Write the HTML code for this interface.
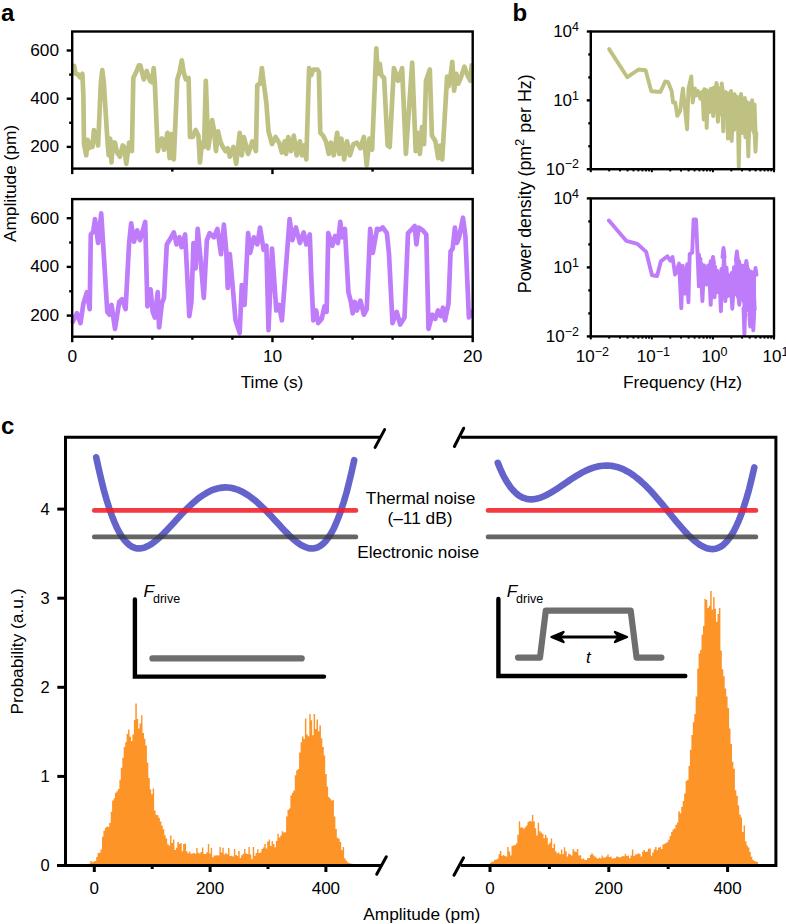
<!DOCTYPE html>
<html><head><meta charset="utf-8"><style>
html,body{margin:0;padding:0;background:#fff;}
svg{display:block;}
text{font-family:"Liberation Sans",sans-serif;fill:#000;}
</style></head><body>
<svg width="786" height="924" viewBox="0 0 786 924">
<rect width="786" height="924" fill="#fff"/>
<text x="1.00" y="21.40" font-size="24" text-anchor="start" font-weight="bold" font-style="normal" >a</text>
<text x="512.50" y="21.40" font-size="24" text-anchor="start" font-weight="bold" font-style="normal" >b</text>
<text x="1.00" y="434.40" font-size="24" text-anchor="start" font-weight="bold" font-style="normal" >c</text>
<polyline points="74.2,66.0 75.6,73.8 78.4,74.5 79.8,77.3 82.4,73.8 83.4,96.3 84.0,144.0 86.2,155.3 87.6,139.9 89.0,148.3 91.1,142.7 92.5,146.9 93.9,130.0 95.3,141.3 96.7,137.0 98.1,145.5 100.9,82.2 102.3,70.2 103.8,82.2 105.2,104.7 107.3,138.5 108.7,155.3 110.1,138.5 111.5,162.4 112.9,142.7 115.0,142.7 117.1,152.5 119.9,156.7 122.7,145.5 124.1,146.9 126.3,163.8 129.1,142.7 131.9,151.1 133.3,78.0 136.1,72.3 138.9,65.3 140.3,65.3 143.8,79.4 146.7,70.9 150.0,80.8 152.0,82.2 153.7,68.1 154.8,82.2 157.7,151.1 159.8,142.7 161.9,138.5 164.0,149.7 167.5,132.8 169.6,158.1 171.7,134.2 173.8,159.5 177.3,79.4 179.5,72.3 181.8,60.4 183.7,72.3 185.8,79.4 188.6,78.0 190.0,137.0 192.8,137.0 195.6,130.0 198.4,135.6 199.9,162.4 202.0,142.7 204.1,146.9 205.8,80.8 206.9,110.3 208.3,148.3 212.2,120.2 213.9,130.0 216.0,151.1 218.1,131.4 220.2,141.3 222.8,146.9 225.6,151.1 227.7,148.3 229.8,156.7 233.4,146.9 236.2,163.8 239.7,132.8 241.8,155.3 243.9,137.0 248.1,153.9 252.3,141.3 255.9,151.1 257.3,85.0 260.1,83.6 261.9,68.1 263.6,82.2 266.4,103.3 268.5,131.4 272.0,144.1 275.6,137.0 279.1,142.7 281.9,152.5 284.7,141.3 286.1,153.9 288.2,137.0 291.0,151.1 293.8,135.6 296.7,155.3 299.9,141.3 302.0,155.3 304.1,145.5 306.3,159.5 309.1,68.1 311.2,75.2 313.3,69.5 317.5,69.5 318.9,72.3 320.3,132.8 323.1,135.6 325.9,141.3 328.8,153.9 330.9,142.7 333.7,155.3 337.2,132.8 339.3,153.9 341.4,138.5 344.2,159.5 347.0,141.3 349.9,155.3 353.4,144.1 356.9,142.7 360.4,148.3 363.9,137.0 366.7,165.2 369.5,138.5 372.1,149.7 376.3,48.4 377.7,73.8 379.8,63.9 381.3,75.2 384.1,78.0 387.6,145.5 389.7,146.9 393.9,68.1 396.0,73.8 398.1,80.8 402.1,68.1 405.9,153.9 412.2,62.5 415.7,151.1 417.8,132.8 419.9,153.9 422.0,127.2 424.1,144.1 426.0,80.8 429.8,69.5 431.9,135.6 435.4,141.3 438.2,158.1 440.3,145.5 442.2,159.5 447.1,76.6 448.5,86.4 450.6,75.2 452.3,61.8 454.1,90.6 456.3,73.8 458.4,83.6 461.2,76.6 464.4,66.7 467.5,75.2 470.3,80.8 471.7,65.3" fill="none" stroke="#BFC183" stroke-width="4.7" stroke-linejoin="round" stroke-linecap="round"/>
<rect x="72.2" y="31.5" width="400.5" height="137.1" fill="none" stroke="#000" stroke-width="2.4"/>
<line x1="66.70" y1="50.50" x2="72.20" y2="50.50" stroke="#000" stroke-width="2.4" stroke-linecap="butt" />
<text x="59.00" y="55.80" font-size="17.3" text-anchor="end" font-weight="normal" font-style="normal" >600</text>
<line x1="69.20" y1="74.60" x2="72.20" y2="74.60" stroke="#000" stroke-width="2.4" stroke-linecap="butt" />
<line x1="66.70" y1="98.70" x2="72.20" y2="98.70" stroke="#000" stroke-width="2.4" stroke-linecap="butt" />
<text x="59.00" y="104.00" font-size="17.3" text-anchor="end" font-weight="normal" font-style="normal" >400</text>
<line x1="69.20" y1="122.80" x2="72.20" y2="122.80" stroke="#000" stroke-width="2.4" stroke-linecap="butt" />
<line x1="66.70" y1="146.90" x2="72.20" y2="146.90" stroke="#000" stroke-width="2.4" stroke-linecap="butt" />
<text x="59.00" y="152.20" font-size="17.3" text-anchor="end" font-weight="normal" font-style="normal" >200</text>
<line x1="72.20" y1="168.60" x2="72.20" y2="174.10" stroke="#000" stroke-width="2.4" stroke-linecap="butt" />
<line x1="172.32" y1="168.60" x2="172.32" y2="171.60" stroke="#000" stroke-width="2.4" stroke-linecap="butt" />
<line x1="272.45" y1="168.60" x2="272.45" y2="174.10" stroke="#000" stroke-width="2.4" stroke-linecap="butt" />
<line x1="372.57" y1="168.60" x2="372.57" y2="171.60" stroke="#000" stroke-width="2.4" stroke-linecap="butt" />
<line x1="472.70" y1="168.60" x2="472.70" y2="174.10" stroke="#000" stroke-width="2.4" stroke-linecap="butt" />
<polyline points="72.8,321.7 77.0,313.3 80.5,323.1 83.4,303.5 86.9,292.2 89.7,309.1 90.8,234.5 93.2,231.7 95.0,219.1 98.1,243.0 101.2,213.4 103.1,243.0 105.9,289.4 107.3,311.9 109.4,314.7 111.5,304.9 115.0,328.8 119.2,302.0 122.0,299.2 125.6,309.1 129.1,243.0 131.2,223.3 134.0,241.6 137.2,230.3 140.0,240.2 145.2,221.9 147.4,306.3 150.6,289.4 152.7,311.9 154.8,317.5 157.7,292.2 159.1,327.4 161.9,303.5 164.0,297.8 166.8,244.4 170.3,238.8 173.8,232.4 176.6,244.4 179.5,237.3 181.6,247.2 185.1,234.5 186.5,261.3 189.3,316.1 191.4,302.0 193.5,243.0 195.6,268.3 197.7,228.9 200.6,259.9 203.8,297.8 206.9,240.2 209.7,233.1 213.9,237.3 217.4,228.9 221.0,254.2 223.9,224.7 226.3,251.4 227.7,288.0 229.8,254.2 232.7,286.6 235.5,320.3 239.7,333.0 241.8,285.2 244.6,304.9 248.1,233.1 250.2,252.8 253.8,237.3 257.3,244.4 260.1,227.5 263.6,250.0 266.4,245.8 268.5,330.2 272.0,248.6 276.3,310.5 279.1,304.9 281.9,320.3 289.6,219.1 292.4,240.2 295.9,227.5 299.9,243.0 303.7,232.4 306.3,244.4 309.8,234.5 311.2,275.3 313.3,320.3 316.1,310.5 318.2,323.1 321.7,318.9 324.5,306.3 326.6,311.9 328.3,233.1 332.3,245.8 335.1,235.9 337.9,243.0 340.3,221.9 342.1,237.3 344.9,228.9 348.4,292.2 350.6,300.6 352.7,313.3 354.8,302.0 356.9,310.5 360.4,300.6 363.9,314.7 366.7,309.1 370.2,228.9 372.8,252.8 377.0,228.9 379.8,229.6 382.7,227.5 386.9,233.1 389.0,254.2 392.5,323.1 396.7,311.9 400.2,324.5 404.5,317.5 408.0,233.1 412.2,228.9 414.7,226.1 416.4,244.4 418.5,227.5 422.7,230.3 426.3,234.5 428.5,328.8 432.3,314.7 435.2,318.9 438.0,310.5 440.8,316.1 442.9,307.7 445.0,320.3 448.5,303.5 450.6,251.4 452.7,248.6 454.9,227.5 457.0,243.0 459.1,237.3 463.0,217.7 465.4,236.0 468.9,317.5 471.7,311.9" fill="none" stroke="#BF7CFA" stroke-width="4.7" stroke-linejoin="round" stroke-linecap="round"/>
<rect x="72.2" y="199.1" width="400.5" height="137.6" fill="none" stroke="#000" stroke-width="2.4"/>
<line x1="66.70" y1="218.20" x2="72.20" y2="218.20" stroke="#000" stroke-width="2.4" stroke-linecap="butt" />
<text x="59.00" y="223.50" font-size="17.3" text-anchor="end" font-weight="normal" font-style="normal" >600</text>
<line x1="69.20" y1="242.55" x2="72.20" y2="242.55" stroke="#000" stroke-width="2.4" stroke-linecap="butt" />
<line x1="66.70" y1="266.90" x2="72.20" y2="266.90" stroke="#000" stroke-width="2.4" stroke-linecap="butt" />
<text x="59.00" y="272.20" font-size="17.3" text-anchor="end" font-weight="normal" font-style="normal" >400</text>
<line x1="69.20" y1="291.25" x2="72.20" y2="291.25" stroke="#000" stroke-width="2.4" stroke-linecap="butt" />
<line x1="66.70" y1="315.60" x2="72.20" y2="315.60" stroke="#000" stroke-width="2.4" stroke-linecap="butt" />
<text x="59.00" y="320.90" font-size="17.3" text-anchor="end" font-weight="normal" font-style="normal" >200</text>
<line x1="72.20" y1="336.70" x2="72.20" y2="342.20" stroke="#000" stroke-width="2.4" stroke-linecap="butt" />
<line x1="112.25" y1="336.70" x2="112.25" y2="339.70" stroke="#000" stroke-width="2.4" stroke-linecap="butt" />
<line x1="152.30" y1="336.70" x2="152.30" y2="339.70" stroke="#000" stroke-width="2.4" stroke-linecap="butt" />
<line x1="192.35" y1="336.70" x2="192.35" y2="339.70" stroke="#000" stroke-width="2.4" stroke-linecap="butt" />
<line x1="232.40" y1="336.70" x2="232.40" y2="339.70" stroke="#000" stroke-width="2.4" stroke-linecap="butt" />
<line x1="272.45" y1="336.70" x2="272.45" y2="342.20" stroke="#000" stroke-width="2.4" stroke-linecap="butt" />
<line x1="312.50" y1="336.70" x2="312.50" y2="339.70" stroke="#000" stroke-width="2.4" stroke-linecap="butt" />
<line x1="352.55" y1="336.70" x2="352.55" y2="339.70" stroke="#000" stroke-width="2.4" stroke-linecap="butt" />
<line x1="392.60" y1="336.70" x2="392.60" y2="339.70" stroke="#000" stroke-width="2.4" stroke-linecap="butt" />
<line x1="432.65" y1="336.70" x2="432.65" y2="339.70" stroke="#000" stroke-width="2.4" stroke-linecap="butt" />
<line x1="472.70" y1="336.70" x2="472.70" y2="342.20" stroke="#000" stroke-width="2.4" stroke-linecap="butt" />
<text x="72.40" y="362.00" font-size="17.3" text-anchor="middle" font-weight="normal" font-style="normal" >0</text>
<text x="272.50" y="362.00" font-size="17.3" text-anchor="middle" font-weight="normal" font-style="normal" >10</text>
<text x="472.70" y="362.00" font-size="17.3" text-anchor="middle" font-weight="normal" font-style="normal" >20</text>
<text x="272.00" y="387.50" font-size="17.3" text-anchor="middle" font-weight="normal" font-style="normal" >Time (s)</text>
<text transform="translate(15.7,183.5) rotate(-90)" x="0" y="0" font-size="17.3" text-anchor="middle">Amplitude (pm)</text>
<polyline points="609.1,49.1 627.3,77.2 638.6,69.5 645.6,70.2 651.3,91.3 660.4,92.0 665.3,81.4 668.1,82.1 671.7,91.3 673.1,102.5 675.2,102.5 677.3,115.9 680.1,111.0 682.9,88.4 687.1,129.2 688.5,88.4 691.3,76.5 692.7,102.5 695.0,88.4" fill="none" stroke="#BFC183" stroke-width="3.9" stroke-linejoin="round" stroke-linecap="round"/>
<polygon points="692.7,93.6 696.0,93.6 699.4,97.0 702.7,95.0 706.1,93.8 709.4,93.8 712.8,90.9 716.1,88.9 719.4,88.8 722.8,91.7 726.1,97.1 729.5,97.1 732.8,98.0 736.1,99.4 739.5,99.9 742.8,100.7 746.2,101.9 749.5,103.1 752.9,105.3 756.2,112.6 756.2,134.0 752.9,130.8 749.5,127.7 746.2,125.7 742.8,123.7 739.5,121.8 736.1,120.5 732.8,119.1 729.5,117.6 726.1,114.9 722.8,112.2 719.4,109.5 716.1,106.9 712.8,104.2 709.4,101.7 706.1,100.0 702.7,98.4 699.4,96.8 696.0,95.9 692.7,95.0" fill="#BFC183"/>
<polyline points="692.7,89.4 694.2,93.7 695.2,91.6 696.3,95.4 697.8,90.9 698.6,94.2 699.7,96.5 700.5,98.8 701.9,91.9 703.5,95.7 704.3,89.1 705.5,96.4 706.6,90.2 707.8,106.6 708.8,91.8 710.0,105.6 710.9,88.8 712.1,106.8 712.9,90.8 714.2,104.9 715.1,90.3 716.6,112.1 717.7,87.6 719.0,105.9 720.2,89.0 721.5,114.2 722.8,92.0 724.3,114.4 725.5,92.0 726.5,113.2 727.7,93.1 728.9,116.1 730.2,94.3 731.4,119.5 732.8,96.2 733.9,120.7 734.7,94.1 736.1,116.6 737.4,97.0 738.3,122.3 739.9,99.6 741.1,120.1 742.1,98.5 743.7,124.4 744.9,98.0 746.1,122.1 746.9,101.9 748.4,124.1 749.7,103.1 751.0,129.3 752.1,100.2 753.6,131.8 754.6,104.5 755.7,136.0" fill="none" stroke="#BFC183" stroke-width="3.9" stroke-linejoin="round" stroke-linecap="round"/>
<polyline points="702.8,98.9 703.7,119.5 704.6,98.9" fill="none" stroke="#BFC183" stroke-width="3.9" stroke-linejoin="round" stroke-linecap="round"/>
<polyline points="705.8,100.4 706.7,127.9 707.6,100.4" fill="none" stroke="#BFC183" stroke-width="3.9" stroke-linejoin="round" stroke-linecap="round"/>
<polyline points="717.0,108.3 717.9,121.9 718.8,108.3" fill="none" stroke="#BFC183" stroke-width="3.9" stroke-linejoin="round" stroke-linecap="round"/>
<polyline points="722.4,112.6 723.3,131.4 724.2,112.6" fill="none" stroke="#BFC183" stroke-width="3.9" stroke-linejoin="round" stroke-linecap="round"/>
<polyline points="727.1,116.4 728.0,138.6 728.9,116.4" fill="none" stroke="#BFC183" stroke-width="3.9" stroke-linejoin="round" stroke-linecap="round"/>
<polyline points="730.8,118.7 731.7,141.0 732.6,118.7" fill="none" stroke="#BFC183" stroke-width="3.9" stroke-linejoin="round" stroke-linecap="round"/>
<polyline points="737.9,121.5 738.8,167.1 739.7,121.5" fill="none" stroke="#BFC183" stroke-width="3.9" stroke-linejoin="round" stroke-linecap="round"/>
<polyline points="744.5,125.2 745.4,137.4 746.3,125.2" fill="none" stroke="#BFC183" stroke-width="3.9" stroke-linejoin="round" stroke-linecap="round"/>
<polyline points="747.4,127.0 748.3,156.4 749.2,127.0" fill="none" stroke="#BFC183" stroke-width="3.9" stroke-linejoin="round" stroke-linecap="round"/>
<polyline points="754.6,133.3 755.5,151.7 756.4,133.3" fill="none" stroke="#BFC183" stroke-width="3.9" stroke-linejoin="round" stroke-linecap="round"/>
<polyline points="708.7,101.8 709.6,112.0 710.5,101.8" fill="none" stroke="#BFC183" stroke-width="3.9" stroke-linejoin="round" stroke-linecap="round"/>
<polyline points="712.3,104.6 713.2,116.0 714.1,104.6" fill="none" stroke="#BFC183" stroke-width="3.9" stroke-linejoin="round" stroke-linecap="round"/>
<polyline points="733.1,119.6 734.0,130.0 734.9,119.6" fill="none" stroke="#BFC183" stroke-width="3.9" stroke-linejoin="round" stroke-linecap="round"/>
<polyline points="741.5,123.4 742.4,133.0 743.3,123.4" fill="none" stroke="#BFC183" stroke-width="3.9" stroke-linejoin="round" stroke-linecap="round"/>
<polyline points="715.5,89.6 716.5,83.0 717.5,89.6" fill="none" stroke="#BFC183" stroke-width="3.9" stroke-linejoin="round" stroke-linecap="round"/>
<polyline points="720.8,90.9 721.8,83.5 722.8,90.9" fill="none" stroke="#BFC183" stroke-width="3.9" stroke-linejoin="round" stroke-linecap="round"/>
<polyline points="712.5,91.3 713.5,88.0 714.5,91.3" fill="none" stroke="#BFC183" stroke-width="3.9" stroke-linejoin="round" stroke-linecap="round"/>
<polyline points="730.0,98.3 731.0,91.0 732.0,98.3" fill="none" stroke="#BFC183" stroke-width="3.9" stroke-linejoin="round" stroke-linecap="round"/>
<polyline points="740.0,101.1 741.0,94.0 742.0,101.1" fill="none" stroke="#BFC183" stroke-width="3.9" stroke-linejoin="round" stroke-linecap="round"/>
<rect x="590.8" y="31.5" width="183.20000000000005" height="137.7" fill="none" stroke="#000" stroke-width="2.4"/>
<line x1="586.80" y1="31.50" x2="590.80" y2="31.50" stroke="#000" stroke-width="2.4" stroke-linecap="butt" />
<line x1="588.30" y1="54.45" x2="590.80" y2="54.45" stroke="#000" stroke-width="2.4" stroke-linecap="butt" />
<line x1="588.30" y1="77.40" x2="590.80" y2="77.40" stroke="#000" stroke-width="2.4" stroke-linecap="butt" />
<line x1="586.80" y1="100.35" x2="590.80" y2="100.35" stroke="#000" stroke-width="2.4" stroke-linecap="butt" />
<line x1="588.30" y1="123.30" x2="590.80" y2="123.30" stroke="#000" stroke-width="2.4" stroke-linecap="butt" />
<line x1="588.30" y1="146.25" x2="590.80" y2="146.25" stroke="#000" stroke-width="2.4" stroke-linecap="butt" />
<line x1="586.80" y1="169.20" x2="590.80" y2="169.20" stroke="#000" stroke-width="2.4" stroke-linecap="butt" />
<text x="579" y="37.40" font-size="17" text-anchor="end">10<tspan font-size="12.5" dy="-6.7">4</tspan></text>
<text x="579" y="106.25" font-size="17" text-anchor="end">10<tspan font-size="12.5" dy="-6.7">1</tspan></text>
<text x="579" y="175.10" font-size="17" text-anchor="end">10<tspan font-size="12.5" dy="-6.7">−2</tspan></text>
<line x1="590.80" y1="169.20" x2="590.80" y2="172.20" stroke="#000" stroke-width="2.0" stroke-linecap="butt" />
<line x1="609.18" y1="169.20" x2="609.18" y2="171.40" stroke="#000" stroke-width="2.0" stroke-linecap="butt" />
<line x1="619.94" y1="169.20" x2="619.94" y2="171.40" stroke="#000" stroke-width="2.0" stroke-linecap="butt" />
<line x1="627.57" y1="169.20" x2="627.57" y2="171.40" stroke="#000" stroke-width="2.0" stroke-linecap="butt" />
<line x1="633.48" y1="169.20" x2="633.48" y2="171.40" stroke="#000" stroke-width="2.0" stroke-linecap="butt" />
<line x1="638.32" y1="169.20" x2="638.32" y2="171.40" stroke="#000" stroke-width="2.0" stroke-linecap="butt" />
<line x1="642.41" y1="169.20" x2="642.41" y2="171.40" stroke="#000" stroke-width="2.0" stroke-linecap="butt" />
<line x1="645.95" y1="169.20" x2="645.95" y2="171.40" stroke="#000" stroke-width="2.0" stroke-linecap="butt" />
<line x1="649.07" y1="169.20" x2="649.07" y2="171.40" stroke="#000" stroke-width="2.0" stroke-linecap="butt" />
<line x1="651.87" y1="169.20" x2="651.87" y2="172.20" stroke="#000" stroke-width="2.0" stroke-linecap="butt" />
<line x1="670.25" y1="169.20" x2="670.25" y2="171.40" stroke="#000" stroke-width="2.0" stroke-linecap="butt" />
<line x1="681.00" y1="169.20" x2="681.00" y2="171.40" stroke="#000" stroke-width="2.0" stroke-linecap="butt" />
<line x1="688.63" y1="169.20" x2="688.63" y2="171.40" stroke="#000" stroke-width="2.0" stroke-linecap="butt" />
<line x1="694.55" y1="169.20" x2="694.55" y2="171.40" stroke="#000" stroke-width="2.0" stroke-linecap="butt" />
<line x1="699.39" y1="169.20" x2="699.39" y2="171.40" stroke="#000" stroke-width="2.0" stroke-linecap="butt" />
<line x1="703.47" y1="169.20" x2="703.47" y2="171.40" stroke="#000" stroke-width="2.0" stroke-linecap="butt" />
<line x1="707.02" y1="169.20" x2="707.02" y2="171.40" stroke="#000" stroke-width="2.0" stroke-linecap="butt" />
<line x1="710.14" y1="169.20" x2="710.14" y2="171.40" stroke="#000" stroke-width="2.0" stroke-linecap="butt" />
<line x1="712.93" y1="169.20" x2="712.93" y2="172.20" stroke="#000" stroke-width="2.0" stroke-linecap="butt" />
<line x1="731.32" y1="169.20" x2="731.32" y2="171.40" stroke="#000" stroke-width="2.0" stroke-linecap="butt" />
<line x1="742.07" y1="169.20" x2="742.07" y2="171.40" stroke="#000" stroke-width="2.0" stroke-linecap="butt" />
<line x1="749.70" y1="169.20" x2="749.70" y2="171.40" stroke="#000" stroke-width="2.0" stroke-linecap="butt" />
<line x1="755.62" y1="169.20" x2="755.62" y2="171.40" stroke="#000" stroke-width="2.0" stroke-linecap="butt" />
<line x1="760.45" y1="169.20" x2="760.45" y2="171.40" stroke="#000" stroke-width="2.0" stroke-linecap="butt" />
<line x1="764.54" y1="169.20" x2="764.54" y2="171.40" stroke="#000" stroke-width="2.0" stroke-linecap="butt" />
<line x1="768.08" y1="169.20" x2="768.08" y2="171.40" stroke="#000" stroke-width="2.0" stroke-linecap="butt" />
<line x1="771.21" y1="169.20" x2="771.21" y2="171.40" stroke="#000" stroke-width="2.0" stroke-linecap="butt" />
<line x1="774.00" y1="169.20" x2="774.00" y2="172.20" stroke="#000" stroke-width="2.0" stroke-linecap="butt" />
<polyline points="608.9,220.5 626.4,240.9 637.4,243.9 646.2,251.9 652.0,275.3 657.1,276.0 660.8,261.4 667.4,256.3 670.3,260.7 672.5,257.0 675.1,274.6 679.1,263.6 681.3,308.2 682.7,265.8 684.9,293.6 687.1,264.3 688.4,302.3 689.7,254.0 692.2,252.6 693.6,219.5 696.0,219.5 697.4,250.0 698.9,286.4 700.5,259.0" fill="none" stroke="#BF7CFA" stroke-width="3.9" stroke-linejoin="round" stroke-linecap="round"/>
<polygon points="699.0,259.0 702.0,266.5 705.0,270.2 708.0,269.3 711.0,265.4 714.0,264.9 717.0,274.3 720.0,274.3 723.0,258.9 726.0,264.7 729.0,274.7 732.0,277.8 735.0,267.0 738.0,259.2 741.0,269.7 744.0,268.3 747.0,268.2 750.0,275.0 753.0,274.6 756.0,273.6 756.0,312.0 753.0,313.0 750.0,314.0 747.0,311.6 744.0,307.2 741.0,298.8 738.0,295.6 735.0,295.0 732.0,294.4 729.0,293.6 726.0,292.4 723.0,291.2 720.0,290.0 717.0,288.5 714.0,287.0 711.0,285.4 708.0,283.7 705.0,282.0 702.0,281.0 699.0,280.0" fill="#BF7CFA"/>
<polyline points="699.0,254.8 700.5,278.9 701.5,263.7 702.6,280.7 704.1,265.4 704.9,279.6 706.0,269.5 706.8,284.6 708.2,265.5 709.8,281.7 710.6,261.1 711.8,282.5 712.9,259.0 714.1,292.7 715.1,266.7 716.3,291.8 717.2,270.6 718.4,292.3 719.2,274.3 720.5,289.8 721.4,268.9 722.9,296.0 724.0,252.7 725.3,288.8 726.5,267.7 727.8,296.1 729.1,275.1 730.6,295.1 731.8,272.8 732.8,292.6 734.0,267.3 735.2,294.0 736.5,257.9 737.7,296.5 739.1,261.2 740.2,297.7 741.0,265.1 742.4,298.9 743.7,265.9 744.6,309.9 746.2,266.3 747.4,309.3 748.4,269.5 750.0,314.2 751.2,271.8 752.4,309.6 753.2,274.2 754.7,309.6" fill="none" stroke="#BF7CFA" stroke-width="3.9" stroke-linejoin="round" stroke-linecap="round"/>
<polyline points="701.5,281.1 702.4,301.1 703.3,281.1" fill="none" stroke="#BF7CFA" stroke-width="3.9" stroke-linejoin="round" stroke-linecap="round"/>
<polyline points="709.8,285.3 710.7,304.9 711.6,285.3" fill="none" stroke="#BF7CFA" stroke-width="3.9" stroke-linejoin="round" stroke-linecap="round"/>
<polyline points="713.6,287.2 714.5,297.3 715.4,287.2" fill="none" stroke="#BF7CFA" stroke-width="3.9" stroke-linejoin="round" stroke-linecap="round"/>
<polyline points="720.0,290.4 720.9,311.2 721.8,290.4" fill="none" stroke="#BF7CFA" stroke-width="3.9" stroke-linejoin="round" stroke-linecap="round"/>
<polyline points="724.4,292.1 725.3,301.1 726.2,292.1" fill="none" stroke="#BF7CFA" stroke-width="3.9" stroke-linejoin="round" stroke-linecap="round"/>
<polyline points="731.4,294.5 732.3,308.7 733.2,294.5" fill="none" stroke="#BF7CFA" stroke-width="3.9" stroke-linejoin="round" stroke-linecap="round"/>
<polyline points="738.4,295.9 739.3,304.9 740.2,295.9" fill="none" stroke="#BF7CFA" stroke-width="3.9" stroke-linejoin="round" stroke-linecap="round"/>
<polyline points="743.5,308.3 744.4,334.1 745.3,308.3" fill="none" stroke="#BF7CFA" stroke-width="3.9" stroke-linejoin="round" stroke-linecap="round"/>
<polyline points="749.3,313.9 750.2,326.5 751.1,313.9" fill="none" stroke="#BF7CFA" stroke-width="3.9" stroke-linejoin="round" stroke-linecap="round"/>
<polyline points="752.4,312.9 753.3,330.3 754.2,312.9" fill="none" stroke="#BF7CFA" stroke-width="3.9" stroke-linejoin="round" stroke-linecap="round"/>
<polyline points="722.5,257.0 723.5,248.0 724.5,257.0" fill="none" stroke="#BF7CFA" stroke-width="3.9" stroke-linejoin="round" stroke-linecap="round"/>
<polyline points="735.9,260.2 736.9,251.5 737.9,260.2" fill="none" stroke="#BF7CFA" stroke-width="3.9" stroke-linejoin="round" stroke-linecap="round"/>
<polyline points="745.3,267.6 746.3,261.0 747.3,267.6" fill="none" stroke="#BF7CFA" stroke-width="3.9" stroke-linejoin="round" stroke-linecap="round"/>
<polyline points="712.0,263.6 713.0,257.0 714.0,263.6" fill="none" stroke="#BF7CFA" stroke-width="3.9" stroke-linejoin="round" stroke-linecap="round"/>
<polyline points="754.5,274.8 755.5,268.0 756.5,274.8" fill="none" stroke="#BF7CFA" stroke-width="3.9" stroke-linejoin="round" stroke-linecap="round"/>
<rect x="590.8" y="198.4" width="183.20000000000005" height="137.99999999999997" fill="none" stroke="#000" stroke-width="2.4"/>
<line x1="586.80" y1="198.40" x2="590.80" y2="198.40" stroke="#000" stroke-width="2.4" stroke-linecap="butt" />
<line x1="588.30" y1="221.40" x2="590.80" y2="221.40" stroke="#000" stroke-width="2.4" stroke-linecap="butt" />
<line x1="588.30" y1="244.40" x2="590.80" y2="244.40" stroke="#000" stroke-width="2.4" stroke-linecap="butt" />
<line x1="586.80" y1="267.40" x2="590.80" y2="267.40" stroke="#000" stroke-width="2.4" stroke-linecap="butt" />
<line x1="588.30" y1="290.40" x2="590.80" y2="290.40" stroke="#000" stroke-width="2.4" stroke-linecap="butt" />
<line x1="588.30" y1="313.40" x2="590.80" y2="313.40" stroke="#000" stroke-width="2.4" stroke-linecap="butt" />
<line x1="586.80" y1="336.40" x2="590.80" y2="336.40" stroke="#000" stroke-width="2.4" stroke-linecap="butt" />
<text x="579" y="204.30" font-size="17" text-anchor="end">10<tspan font-size="12.5" dy="-6.7">4</tspan></text>
<text x="579" y="273.30" font-size="17" text-anchor="end">10<tspan font-size="12.5" dy="-6.7">1</tspan></text>
<text x="579" y="342.30" font-size="17" text-anchor="end">10<tspan font-size="12.5" dy="-6.7">−2</tspan></text>
<line x1="590.80" y1="336.40" x2="590.80" y2="339.40" stroke="#000" stroke-width="2.0" stroke-linecap="butt" />
<line x1="609.18" y1="336.40" x2="609.18" y2="338.60" stroke="#000" stroke-width="2.0" stroke-linecap="butt" />
<line x1="619.94" y1="336.40" x2="619.94" y2="338.60" stroke="#000" stroke-width="2.0" stroke-linecap="butt" />
<line x1="627.57" y1="336.40" x2="627.57" y2="338.60" stroke="#000" stroke-width="2.0" stroke-linecap="butt" />
<line x1="633.48" y1="336.40" x2="633.48" y2="338.60" stroke="#000" stroke-width="2.0" stroke-linecap="butt" />
<line x1="638.32" y1="336.40" x2="638.32" y2="338.60" stroke="#000" stroke-width="2.0" stroke-linecap="butt" />
<line x1="642.41" y1="336.40" x2="642.41" y2="338.60" stroke="#000" stroke-width="2.0" stroke-linecap="butt" />
<line x1="645.95" y1="336.40" x2="645.95" y2="338.60" stroke="#000" stroke-width="2.0" stroke-linecap="butt" />
<line x1="649.07" y1="336.40" x2="649.07" y2="338.60" stroke="#000" stroke-width="2.0" stroke-linecap="butt" />
<line x1="651.87" y1="336.40" x2="651.87" y2="339.40" stroke="#000" stroke-width="2.0" stroke-linecap="butt" />
<line x1="670.25" y1="336.40" x2="670.25" y2="338.60" stroke="#000" stroke-width="2.0" stroke-linecap="butt" />
<line x1="681.00" y1="336.40" x2="681.00" y2="338.60" stroke="#000" stroke-width="2.0" stroke-linecap="butt" />
<line x1="688.63" y1="336.40" x2="688.63" y2="338.60" stroke="#000" stroke-width="2.0" stroke-linecap="butt" />
<line x1="694.55" y1="336.40" x2="694.55" y2="338.60" stroke="#000" stroke-width="2.0" stroke-linecap="butt" />
<line x1="699.39" y1="336.40" x2="699.39" y2="338.60" stroke="#000" stroke-width="2.0" stroke-linecap="butt" />
<line x1="703.47" y1="336.40" x2="703.47" y2="338.60" stroke="#000" stroke-width="2.0" stroke-linecap="butt" />
<line x1="707.02" y1="336.40" x2="707.02" y2="338.60" stroke="#000" stroke-width="2.0" stroke-linecap="butt" />
<line x1="710.14" y1="336.40" x2="710.14" y2="338.60" stroke="#000" stroke-width="2.0" stroke-linecap="butt" />
<line x1="712.93" y1="336.40" x2="712.93" y2="339.40" stroke="#000" stroke-width="2.0" stroke-linecap="butt" />
<line x1="731.32" y1="336.40" x2="731.32" y2="338.60" stroke="#000" stroke-width="2.0" stroke-linecap="butt" />
<line x1="742.07" y1="336.40" x2="742.07" y2="338.60" stroke="#000" stroke-width="2.0" stroke-linecap="butt" />
<line x1="749.70" y1="336.40" x2="749.70" y2="338.60" stroke="#000" stroke-width="2.0" stroke-linecap="butt" />
<line x1="755.62" y1="336.40" x2="755.62" y2="338.60" stroke="#000" stroke-width="2.0" stroke-linecap="butt" />
<line x1="760.45" y1="336.40" x2="760.45" y2="338.60" stroke="#000" stroke-width="2.0" stroke-linecap="butt" />
<line x1="764.54" y1="336.40" x2="764.54" y2="338.60" stroke="#000" stroke-width="2.0" stroke-linecap="butt" />
<line x1="768.08" y1="336.40" x2="768.08" y2="338.60" stroke="#000" stroke-width="2.0" stroke-linecap="butt" />
<line x1="771.21" y1="336.40" x2="771.21" y2="338.60" stroke="#000" stroke-width="2.0" stroke-linecap="butt" />
<line x1="774.00" y1="336.40" x2="774.00" y2="339.40" stroke="#000" stroke-width="2.0" stroke-linecap="butt" />
<text x="592.30" y="362" font-size="17" text-anchor="middle">10<tspan font-size="12.5" dy="-6.5">−2</tspan></text>
<text x="653.37" y="362" font-size="17" text-anchor="middle">10<tspan font-size="12.5" dy="-6.5">−1</tspan></text>
<text x="714.43" y="362" font-size="17" text-anchor="middle">10<tspan font-size="12.5" dy="-6.5">0</tspan></text>
<text x="775.50" y="362" font-size="17" text-anchor="middle">10<tspan font-size="12.5" dy="-6.5">1</tspan></text>
<text x="682.50" y="387.50" font-size="17.3" text-anchor="middle" font-weight="normal" font-style="normal" >Frequency (Hz)</text>
<text transform="translate(530.7,183.8) rotate(-90)" x="0" y="0" font-size="17.8" text-anchor="middle">Power density (pm<tspan font-size="13" dy="-6.5">2</tspan><tspan dy="6.5" dx="1"> per Hz)</tspan></text>
<path d="M86.0,865.5V864.6H87.5V863.9H88.9V863.5H90.4V860.9H91.8V862.3H93.3V861.5H94.7V860.9H96.2V857.1H97.6V852.9H99.1V852.8H100.5V849.6H102.0V836.7H103.4V830.7H104.9V827.7H106.3V826.6H107.8V827.0H109.2V822.9H110.7V811.8H112.1V800.4H113.6V798.3H115.0V792.7H116.5V791.3H117.9V789.1H119.4V779.8H120.8V767.7H122.3V757.7H123.7V746.9H125.2V742.3H126.6V734.1H128.1V729.6H129.5V736.8H131.0V740.9H132.4V734.4H133.9V720.0H135.3V703.6H136.8V719.0H138.2V728.6H139.6V723.4H141.1V715.3H142.5V733.1H144.0V738.7H145.4V745.5H146.9V762.5H148.3V778.0H149.8V789.4H151.2V794.3H152.7V788.4H154.1V810.4H155.6V814.8H157.0V815.2H158.5V818.1H159.9V821.6H161.4V825.8H162.8V829.2H164.3V835.3H165.7V838.4H167.2V844.2H168.6V845.5H170.1V835.6H171.5V843.1H173.0V839.5H174.4V849.9H175.9V847.8H177.3V841.9H178.8V844.0H180.2V843.0H181.7V851.2H183.1V844.0H184.6V843.5H186.0V851.3H187.5V853.2H188.9V851.6H190.4V853.8H191.8V853.6H193.3V852.9H194.7V853.8H196.2V848.0H197.6V852.7H199.1V853.5H200.5V852.0H202.0V847.5H203.4V854.0H204.9V854.0H206.3V852.3H207.8V844.0H209.2V853.5H210.7V848.0H212.1V857.3H213.6V855.5H215.0V855.5H216.5V855.3H217.9V855.5H219.4V847.1H220.8V852.5H222.3V847.8H223.7V854.5H225.2V853.1H226.6V854.3H228.1V848.0H229.5V856.0H231.0V855.7H232.4V856.5H233.9V849.0H235.3V855.1H236.8V856.1H238.2V850.9H239.7V858.1H241.1V855.2H242.6V853.8H244.0V849.0H245.5V853.6H246.9V854.0H248.4V847.0H249.8V854.4H251.3V859.2H252.7V847.0H254.2V855.7H255.6V853.0H257.1V849.2H258.5V852.9H260.0V852.6H261.4V849.0H262.9V847.5H264.3V844.0H265.8V848.6H267.2V841.5H268.7V839.4H270.1V846.0H271.6V841.0H273.0V844.1H274.5V847.2H275.9V840.9H277.4V833.7H278.8V837.5H280.3V835.6H281.7V831.3H283.2V832.5H284.6V832.3H286.1V816.4H287.5V809.9H289.0V808.6H290.4V795.5H291.9V792.8H293.3V790.5H294.8V775.2H296.2V770.3H297.7V769.1H299.1V752.4H300.6V742.3H302.0V736.6H303.5V739.0H304.9V718.4H306.4V734.5H307.8V736.2H309.3V714.0H310.7V720.2H312.2V735.2H313.6V714.0H315.1V729.1H316.5V719.5H318.0V731.3H319.4V725.4H320.9V738.2H322.3V747.0H323.8V755.6H325.2V774.1H326.7V786.6H328.1V796.9H329.6V798.8H331.0V800.4H332.5V800.1H333.9V816.4H335.4V829.1H336.8V837.7H338.3V838.7H339.7V842.1H341.2V849.9H342.6V846.9H344.1V858.2H345.5V860.5H347.0V862.3H348.4V862.9H349.9V863.5H351.3V863.7H352.8V864.2H354.2V864.6H355.7V865.0H357.1V865.5Z" fill="#FD9428"/>
<path d="M484.0,865.5V865.1H485.4V865.1H486.9V864.8H488.3V863.9H489.8V862.9H491.2V861.7H492.7V861.8H494.1V859.8H495.6V859.4H497.0V858.7H498.5V854.2H499.9V850.9H501.4V855.9H502.8V855.0H504.3V856.1H505.7V856.4H507.2V847.0H508.6V851.6H510.1V855.5H511.5V846.1H513.0V845.6H514.4V845.1H515.9V843.6H517.3V834.8H518.8V821.2H520.2V827.6H521.7V827.6H523.2V828.8H524.6V827.3H526.1V825.6H527.5V822.1H529.0V821.0H530.4V821.4H531.9V814.9H533.3V821.6H534.8V828.3H536.2V835.6H537.7V822.8H539.1V831.2H540.6V832.8H542.0V833.9H543.5V838.3H544.9V834.7H546.4V837.7H547.8V844.5H549.3V842.7H550.7V838.5H552.2V848.0H553.6V843.8H555.1V851.3H556.5V853.2H558.0V852.6H559.4V854.3H560.9V849.6H562.3V854.2H563.8V847.3H565.2V851.2H566.7V856.5H568.1V853.7H569.6V854.5H571.0V855.5H572.5V849.0H573.9V851.3H575.4V851.9H576.8V849.0H578.3V855.5H579.7V855.3H581.2V859.0H582.6V858.5H584.1V859.7H585.5V859.9H587.0V858.2H588.4V858.0H589.9V854.9H591.3V853.3H592.8V855.2H594.2V856.4H595.7V857.8H597.1V858.7H598.6V857.7H600.0V858.3H601.5V855.5H602.9V857.6H604.4V857.6H605.8V856.6H607.3V854.4H608.7V857.1H610.2V856.5H611.6V858.4H613.1V858.3H614.5V858.0H616.0V856.5H617.4V856.8H618.9V857.4H620.3V857.0H621.8V855.9H623.2V856.3H624.7V853.8H626.1V856.1H627.6V855.6H629.0V858.3H630.5V855.5H631.9V849.4H633.4V855.9H634.8V854.6H636.3V854.3H637.7V853.3H639.2V853.9H640.6V856.6H642.1V851.6H643.5V849.9H645.0V852.1H646.4V851.4H647.9V848.7H649.3V848.6H650.8V855.8H652.2V852.6H653.7V849.5H655.1V846.9H656.6V850.3H658.0V847.8H659.5V846.8H660.9V849.0H662.4V844.6H663.8V843.8H665.3V843.2H666.7V842.1H668.2V839.7H669.6V836.1H671.1V832.0H672.5V829.5H674.0V828.6H675.4V824.8H676.9V822.4H678.3V811.2H679.8V813.2H681.2V806.7H682.7V801.0H684.1V793.4H685.6V781.1H687.0V780.0H688.5V766.0H689.9V749.8H691.4V735.1H692.8V722.2H694.3V714.1H695.7V696.4H697.2V668.7H698.6V653.4H700.1V650.0H701.5V634.7H703.0V625.9H704.4V599.0H705.9V600.0H707.3V608.1H708.8V605.7H710.2V591.0H711.7V609.8H713.1V597.0H714.6V608.7H716.0V621.7H717.5V613.9H718.9V608.0H720.4V650.5H721.8V669.2H723.3V676.2H724.7V688.5H726.2V696.4H727.6V708.0H729.1V728.4H730.5V744.1H732.0V761.7H733.4V768.8H734.9V790.3H736.3V795.8H737.8V805.5H739.2V814.5H740.7V817.4H742.1V832.1H743.6V825.5H745.0V841.2H746.5V845.5H747.9V847.5H749.4V852.1H750.8V856.7H752.3V859.8H753.7V861.0H755.2V861.5H756.6V861.9H758.1V864.1H759.5V865.0H761.0V865.5Z" fill="#FD9428"/>
<path d="M65.5,865.5 V437.2 H381" fill="none" stroke="#000" stroke-width="3.0" stroke-linejoin="miter"/>
<line x1="57.00" y1="865.50" x2="381.00" y2="865.50" stroke="#000" stroke-width="3.0" stroke-linecap="butt" />
<line x1="375.10" y1="447.40" x2="384.60" y2="429.60" stroke="#000" stroke-width="3.0" stroke-linecap="round" />
<line x1="376.70" y1="874.30" x2="386.30" y2="856.70" stroke="#000" stroke-width="3.0" stroke-linecap="round" />
<line x1="454.40" y1="446.50" x2="463.70" y2="428.20" stroke="#000" stroke-width="3.0" stroke-linecap="round" />
<line x1="454.00" y1="875.20" x2="463.50" y2="857.70" stroke="#000" stroke-width="3.0" stroke-linecap="round" />
<path d="M461,437.2 H775.9 V865.5 H461" fill="none" stroke="#000" stroke-width="3.0" stroke-linejoin="miter"/>
<line x1="57.30" y1="865.50" x2="65.50" y2="865.50" stroke="#000" stroke-width="3.0" stroke-linecap="butt" />
<text x="49.80" y="871.10" font-size="16.5" text-anchor="end" font-weight="normal" font-style="normal" >0</text>
<line x1="57.30" y1="776.40" x2="65.50" y2="776.40" stroke="#000" stroke-width="3.0" stroke-linecap="butt" />
<text x="49.80" y="782.00" font-size="16.5" text-anchor="end" font-weight="normal" font-style="normal" >1</text>
<line x1="57.30" y1="687.30" x2="65.50" y2="687.30" stroke="#000" stroke-width="3.0" stroke-linecap="butt" />
<text x="49.80" y="692.90" font-size="16.5" text-anchor="end" font-weight="normal" font-style="normal" >2</text>
<line x1="57.30" y1="598.20" x2="65.50" y2="598.20" stroke="#000" stroke-width="3.0" stroke-linecap="butt" />
<text x="49.80" y="603.80" font-size="16.5" text-anchor="end" font-weight="normal" font-style="normal" >3</text>
<line x1="57.30" y1="509.10" x2="65.50" y2="509.10" stroke="#000" stroke-width="3.0" stroke-linecap="butt" />
<text x="49.80" y="514.70" font-size="16.5" text-anchor="end" font-weight="normal" font-style="normal" >4</text>
<text transform="translate(22.7,651.5) rotate(-90)" x="0" y="0" font-size="17.3" text-anchor="middle">Probability (a.u.)</text>
<line x1="94.30" y1="865.50" x2="94.30" y2="872.00" stroke="#000" stroke-width="3.0" stroke-linecap="butt" />
<text x="94.30" y="894.00" font-size="17" text-anchor="middle" font-weight="normal" font-style="normal" >0</text>
<line x1="152.20" y1="865.50" x2="152.20" y2="869.00" stroke="#000" stroke-width="3.0" stroke-linecap="butt" />
<line x1="210.10" y1="865.50" x2="210.10" y2="872.00" stroke="#000" stroke-width="3.0" stroke-linecap="butt" />
<text x="210.10" y="894.00" font-size="17" text-anchor="middle" font-weight="normal" font-style="normal" >200</text>
<line x1="268.00" y1="865.50" x2="268.00" y2="869.00" stroke="#000" stroke-width="3.0" stroke-linecap="butt" />
<line x1="325.90" y1="865.50" x2="325.90" y2="872.00" stroke="#000" stroke-width="3.0" stroke-linecap="butt" />
<text x="325.90" y="894.00" font-size="17" text-anchor="middle" font-weight="normal" font-style="normal" >400</text>
<line x1="490.00" y1="865.50" x2="490.00" y2="872.00" stroke="#000" stroke-width="3.0" stroke-linecap="butt" />
<text x="490.00" y="894.00" font-size="17" text-anchor="middle" font-weight="normal" font-style="normal" >0</text>
<line x1="549.40" y1="865.50" x2="549.40" y2="869.00" stroke="#000" stroke-width="3.0" stroke-linecap="butt" />
<line x1="608.80" y1="865.50" x2="608.80" y2="872.00" stroke="#000" stroke-width="3.0" stroke-linecap="butt" />
<text x="608.80" y="894.00" font-size="17" text-anchor="middle" font-weight="normal" font-style="normal" >200</text>
<line x1="668.20" y1="865.50" x2="668.20" y2="869.00" stroke="#000" stroke-width="3.0" stroke-linecap="butt" />
<line x1="727.60" y1="865.50" x2="727.60" y2="872.00" stroke="#000" stroke-width="3.0" stroke-linecap="butt" />
<text x="727.60" y="894.00" font-size="17" text-anchor="middle" font-weight="normal" font-style="normal" >400</text>
<text x="421.80" y="919.70" font-size="17.3" text-anchor="middle" font-weight="normal" font-style="normal" >Amplitude (pm)</text>
<polyline points="96.2,457.3 98.8,469.2 101.4,480.3 103.9,490.4 106.5,499.5 109.1,507.8 111.7,515.2 114.3,521.8 116.8,527.6 119.4,532.5 122.0,536.8 124.6,540.3 127.2,543.1 129.7,545.3 132.3,546.9 134.9,547.9 137.5,548.4 140.1,548.5 142.6,548.1 145.2,547.3 147.8,546.1 150.4,544.7 153.0,542.9 155.5,540.9 158.1,538.7 160.7,536.4 163.3,533.8 165.9,531.2 168.4,528.5 171.0,525.7 173.6,522.9 176.2,520.1 178.8,517.3 181.3,514.5 183.9,511.8 186.5,509.2 189.1,506.7 191.7,504.2 194.2,501.9 196.8,499.7 199.4,497.7 202.0,495.8 204.6,494.2 207.1,492.6 209.7,491.3 212.3,490.1 214.9,489.2 217.5,488.5 220.0,487.9 222.6,487.6 225.2,487.4 227.8,487.5 230.4,487.8 232.9,488.3 235.5,489.0 238.1,489.9 240.7,491.0 243.3,492.3 245.8,493.8 248.4,495.4 251.0,497.3 253.6,499.3 256.2,501.4 258.7,503.7 261.3,506.1 263.9,508.6 266.5,511.2 269.1,513.9 271.6,516.6 274.2,519.4 276.8,522.3 279.4,525.1 282.0,527.9 284.5,530.6 287.1,533.2 289.7,535.8 292.3,538.2 294.9,540.4 297.4,542.5 300.0,544.3 302.6,545.8 305.2,547.0 307.8,547.9 310.3,548.4 312.9,548.5 315.5,548.1 318.1,547.2 320.7,545.7 323.2,543.7 325.8,541.0 328.4,537.6 331.0,533.6 333.6,528.8 336.1,523.2 338.7,516.8 341.3,509.6 343.9,501.5 346.5,492.6 349.0,482.7 351.6,471.9 354.2,460.2" fill="none" stroke="#3C3CBE" stroke-opacity="0.8" stroke-width="6.6" stroke-linecap="round" stroke-linejoin="round"/>
<polyline points="497.8,462.9 500.4,469.1 502.9,474.7 505.5,479.5 508.1,483.7 510.6,487.4 513.2,490.4 515.8,493.0 518.3,495.1 520.9,496.7 523.5,497.9 526.0,498.7 528.6,499.2 531.1,499.4 533.7,499.2 536.3,498.8 538.8,498.1 541.4,497.3 544.0,496.2 546.5,495.0 549.1,493.6 551.7,492.1 554.2,490.6 556.8,488.9 559.4,487.2 561.9,485.5 564.5,483.7 567.1,482.0 569.6,480.2 572.2,478.5 574.8,476.9 577.3,475.3 579.9,473.8 582.4,472.4 585.0,471.1 587.6,469.9 590.1,468.9 592.7,467.9 595.3,467.1 597.8,466.5 600.4,466.0 603.0,465.7 605.5,465.6 608.1,465.6 610.7,465.8 613.2,466.1 615.8,466.7 618.4,467.4 620.9,468.3 623.5,469.4 626.0,470.7 628.6,472.1 631.2,473.8 633.7,475.5 636.3,477.5 638.9,479.6 641.4,481.8 644.0,484.2 646.6,486.7 649.1,489.3 651.7,492.1 654.3,494.9 656.8,497.8 659.4,500.9 662.0,503.9 664.5,507.0 667.1,510.2 669.7,513.3 672.2,516.5 674.8,519.6 677.3,522.7 679.9,525.7 682.5,528.7 685.0,531.5 687.6,534.3 690.2,536.8 692.7,539.2 695.3,541.4 697.9,543.4 700.4,545.2 703.0,546.6 705.6,547.8 708.1,548.6 710.7,549.0 713.3,549.1 715.8,548.7 718.4,547.8 721.0,546.5 723.5,544.7 726.1,542.2 728.6,539.2 731.2,535.5 733.8,531.2 736.3,526.1 738.9,520.3 741.5,513.7 744.0,506.3 746.6,498.0 749.2,488.8 751.7,478.6 754.3,467.4" fill="none" stroke="#3C3CBE" stroke-opacity="0.8" stroke-width="6.6" stroke-linecap="round" stroke-linejoin="round"/>
<line x1="94.20" y1="510.40" x2="356.00" y2="510.40" stroke="#F41E28" stroke-width="4.6" stroke-linecap="round" stroke-opacity="0.88"/>
<line x1="94.20" y1="536.90" x2="356.00" y2="536.90" stroke="#3A3A3A" stroke-width="4.6" stroke-linecap="round" stroke-opacity="0.78"/>
<line x1="488.00" y1="510.40" x2="756.00" y2="510.40" stroke="#F41E28" stroke-width="4.6" stroke-linecap="round" stroke-opacity="0.88"/>
<line x1="488.00" y1="536.90" x2="756.00" y2="536.90" stroke="#3A3A3A" stroke-width="4.6" stroke-linecap="round" stroke-opacity="0.78"/>
<text x="420.60" y="503.80" font-size="17.3" text-anchor="middle" font-weight="normal" font-style="normal" >Thermal noise</text>
<text x="420.00" y="524.40" font-size="17.3" text-anchor="middle" font-weight="normal" font-style="normal" >(–11 dB)</text>
<text x="418.20" y="558.40" font-size="17.3" text-anchor="middle" font-weight="normal" font-style="normal" >Electronic noise</text>
<path d="M134.9,599.5 V676.6 H324" fill="none" stroke="#000" stroke-width="4.4" stroke-linecap="round" stroke-linejoin="miter"/>
<line x1="152.40" y1="658.40" x2="301.70" y2="658.40" stroke="#6E6E6E" stroke-width="6.2" stroke-linecap="round" />
<text x="143.5" y="597.3" font-size="17.3" font-style="italic">F</text>
<text x="153" y="602.5" font-size="12.5">drive</text>
<path d="M498.4,599 V676 H685.3" fill="none" stroke="#000" stroke-width="4.4" stroke-linecap="round" stroke-linejoin="miter"/>
<polyline points="518,657.6 540,657.6 545.8,610.7 630.7,610.7 636.6,657.6 661.4,657.6" fill="none" stroke="#6E6E6E" stroke-width="6.2" stroke-linecap="round" stroke-linejoin="round"/>
<text x="506.7" y="597.3" font-size="17.3" font-style="italic">F</text>
<text x="516.1" y="602.5" font-size="12.5">drive</text>
<line x1="556.00" y1="637.00" x2="622.00" y2="637.00" stroke="#000" stroke-width="3.0" stroke-linecap="butt" />
<path d="M551.5,637 L563.5,632 L559.5,637 L563.5,642 Z" fill="#000" stroke="#000" stroke-width="2.4" stroke-linejoin="round"/>
<path d="M627,637 L615,632 L619,637 L615,642 Z" fill="#000" stroke="#000" stroke-width="2.4" stroke-linejoin="round"/>
<text x="586" y="663.4" font-size="17" font-style="italic">t</text>
</svg>
</body></html>
